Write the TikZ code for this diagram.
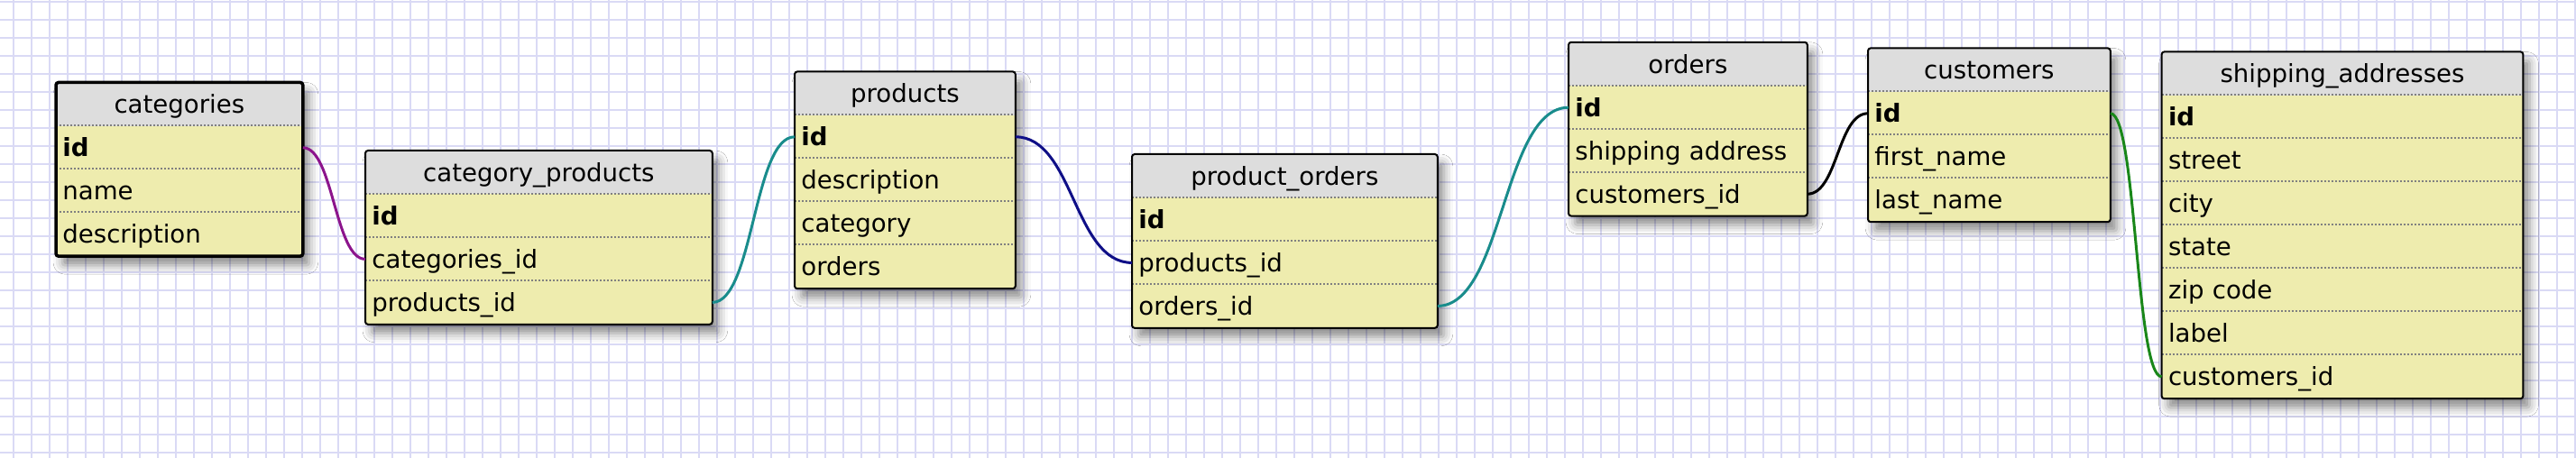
\documentclass[tikz,border=0pt]{standalone}
\usepackage{fontspec}
\setmainfont{DejaVu Sans}
\usetikzlibrary{backgrounds,shadows.blur}

\definecolor{headgray}{RGB}{221,221,221}
\definecolor{rowyellow}{RGB}{238,236,174}
\definecolor{gridblue}{RGB}{218,218,245}
\definecolor{relpurple}{RGB}{140,20,140}
\definecolor{relteal}{RGB}{25,140,140}
\definecolor{relnavy}{RGB}{15,15,135}
\definecolor{relgreen}{RGB}{25,135,25}

\tikzset{
  head/.style={anchor=north west, fill=headgray, minimum height=24pt,
    inner sep=0pt, text height=13pt, text depth=3pt},
  field/.style={anchor=north west, text width=#1, inner xsep=3.5pt,
    inner ysep=0pt, minimum height=24pt, text height=13pt, text depth=3pt,
    align=left},
  rowline/.style={draw=gray, line width=1pt, dash pattern=on 1pt off 1pt},
  tblbox/.style={fill=rowyellow, rounded corners=1.5pt,
    blur shadow={shadow xshift=3.5pt, shadow yshift=-5pt,
      shadow blur radius=5pt, shadow opacity=45}},
  tblframe/.style={draw, line width=1pt, rounded corners=1.5pt},
  gridline/.style={draw=gridblue, line width=0.75pt},
  rel/.style={draw=#1, line width=1.5pt},
}

\begin{document}
\begin{tikzpicture}[x=1pt,y=-1pt,font=\fontsize{13.8}{16}\selectfont]
\useasboundingbox (0,0) rectangle (1428,254);

% grid paper
\begin{scope}[on background layer]
\fill[white] (0,0) rectangle (1428,254);
\foreach \x in {7.5,17.5,...,1427.5} \draw[gridline] (\x,0) -- (\x,254);
\foreach \y in {1,11,...,251} \draw[gridline] (0,\y) -- (1428,\y);
\end{scope}

% categories
\node[head, minimum width=136.5pt] (cat) at (31,45.7) {categories};
\foreach \f [count=\i] in {\textbf{id},name,description} {
  \node[field=129.5pt] (cat-\i) at (31,{45.7+24*\i}) {\f};
  \draw[rowline] (cat-\i.north west) -- (cat-\i.north east);
}
\begin{scope}[on background layer]
\path[tblbox] (cat.north west) rectangle (cat-3.south east);
\end{scope}
\draw[tblframe, line width=1.75pt] (cat.north west) rectangle (cat-3.south east);

% category_products
\node[head, minimum width=192pt] (catprod) at (202.5,83.5) {category\_products};
\foreach \f [count=\i] in {\textbf{id},categories\_id,products\_id} {
  \node[field=185pt] (catprod-\i) at (202.5,{83.5+24*\i}) {\f};
  \draw[rowline] (catprod-\i.north west) -- (catprod-\i.north east);
}
\begin{scope}[on background layer]
\path[tblbox] (catprod.north west) rectangle (catprod-3.south east);
\end{scope}
\draw[tblframe] (catprod.north west) rectangle (catprod-3.south east);

% products
\node[head, minimum width=122pt] (prod) at (440.5,39.7) {products};
\foreach \f [count=\i] in {\textbf{id},description,category,orders} {
  \node[field=115pt] (prod-\i) at (440.5,{39.7+24*\i}) {\f};
  \draw[rowline] (prod-\i.north west) -- (prod-\i.north east);
}
\begin{scope}[on background layer]
\path[tblbox] (prod.north west) rectangle (prod-4.south east);
\end{scope}
\draw[tblframe] (prod.north west) rectangle (prod-4.south east);

% product_orders
\node[head, minimum width=169pt] (prodord) at (627.5,85.5) {product\_orders};
\foreach \f [count=\i] in {\textbf{id},products\_id,orders\_id} {
  \node[field=162pt] (prodord-\i) at (627.5,{85.5+24*\i}) {\f};
  \draw[rowline] (prodord-\i.north west) -- (prodord-\i.north east);
}
\begin{scope}[on background layer]
\path[tblbox] (prodord.north west) rectangle (prodord-3.south east);
\end{scope}
\draw[tblframe] (prodord.north west) rectangle (prodord-3.south east);

% orders
\node[head, minimum width=132pt] (ord) at (869.5,23.4) {orders};
\foreach \f [count=\i] in {\textbf{id},shipping address,customers\_id} {
  \node[field=125pt] (ord-\i) at (869.5,{23.4+24*\i}) {\f};
  \draw[rowline] (ord-\i.north west) -- (ord-\i.north east);
}
\begin{scope}[on background layer]
\path[tblbox] (ord.north west) rectangle (ord-3.south east);
\end{scope}
\draw[tblframe] (ord.north west) rectangle (ord-3.south east);

% customers
\node[head, minimum width=134pt] (cust) at (1035.5,26.7) {customers};
\foreach \f [count=\i] in {\textbf{id},first\_name,last\_name} {
  \node[field=127pt] (cust-\i) at (1035.5,{26.7+24*\i}) {\f};
  \draw[rowline] (cust-\i.north west) -- (cust-\i.north east);
}
\begin{scope}[on background layer]
\path[tblbox] (cust.north west) rectangle (cust-3.south east);
\end{scope}
\draw[tblframe] (cust.north west) rectangle (cust-3.south east);

% shipping_addresses
\node[head, minimum width=200pt] (ship) at (1198.3,28.7) {shipping\_addresses};
\foreach \f [count=\i] in {\textbf{id},street,city,state,zip code,label,customers\_id} {
  \node[field=193pt] (ship-\i) at (1198.3,{28.7+24*\i}) {\f};
  \draw[rowline] (ship-\i.north west) -- (ship-\i.north east);
}
\begin{scope}[on background layer]
\path[tblbox] (ship.north west) rectangle (ship-7.south east);
\end{scope}
\draw[tblframe] (ship.north west) rectangle (ship-7.south east);

% relations
\draw[rel=relpurple] (cat-1.east) to[out=0,in=180,looseness=0.61] (catprod-2.west);
\draw[rel=relteal] (catprod-3.east) to[out=0,in=180,looseness=0.57] (prod-1.west);
\draw[rel=relnavy] (prod-1.east) to[out=0,in=180,looseness=0.87] (prodord-2.west);
\draw[rel=relteal] (prodord-3.east) to[out=0,in=180,looseness=0.71] (ord-1.west);
\draw[rel=black] (ord-3.east) to[out=0,in=180,looseness=0.77] (cust-1.west);
\draw[rel=relgreen] (cust-1.east) to[out=0,in=180,looseness=0.25] (ship-7.west);

\end{tikzpicture}
\end{document}
